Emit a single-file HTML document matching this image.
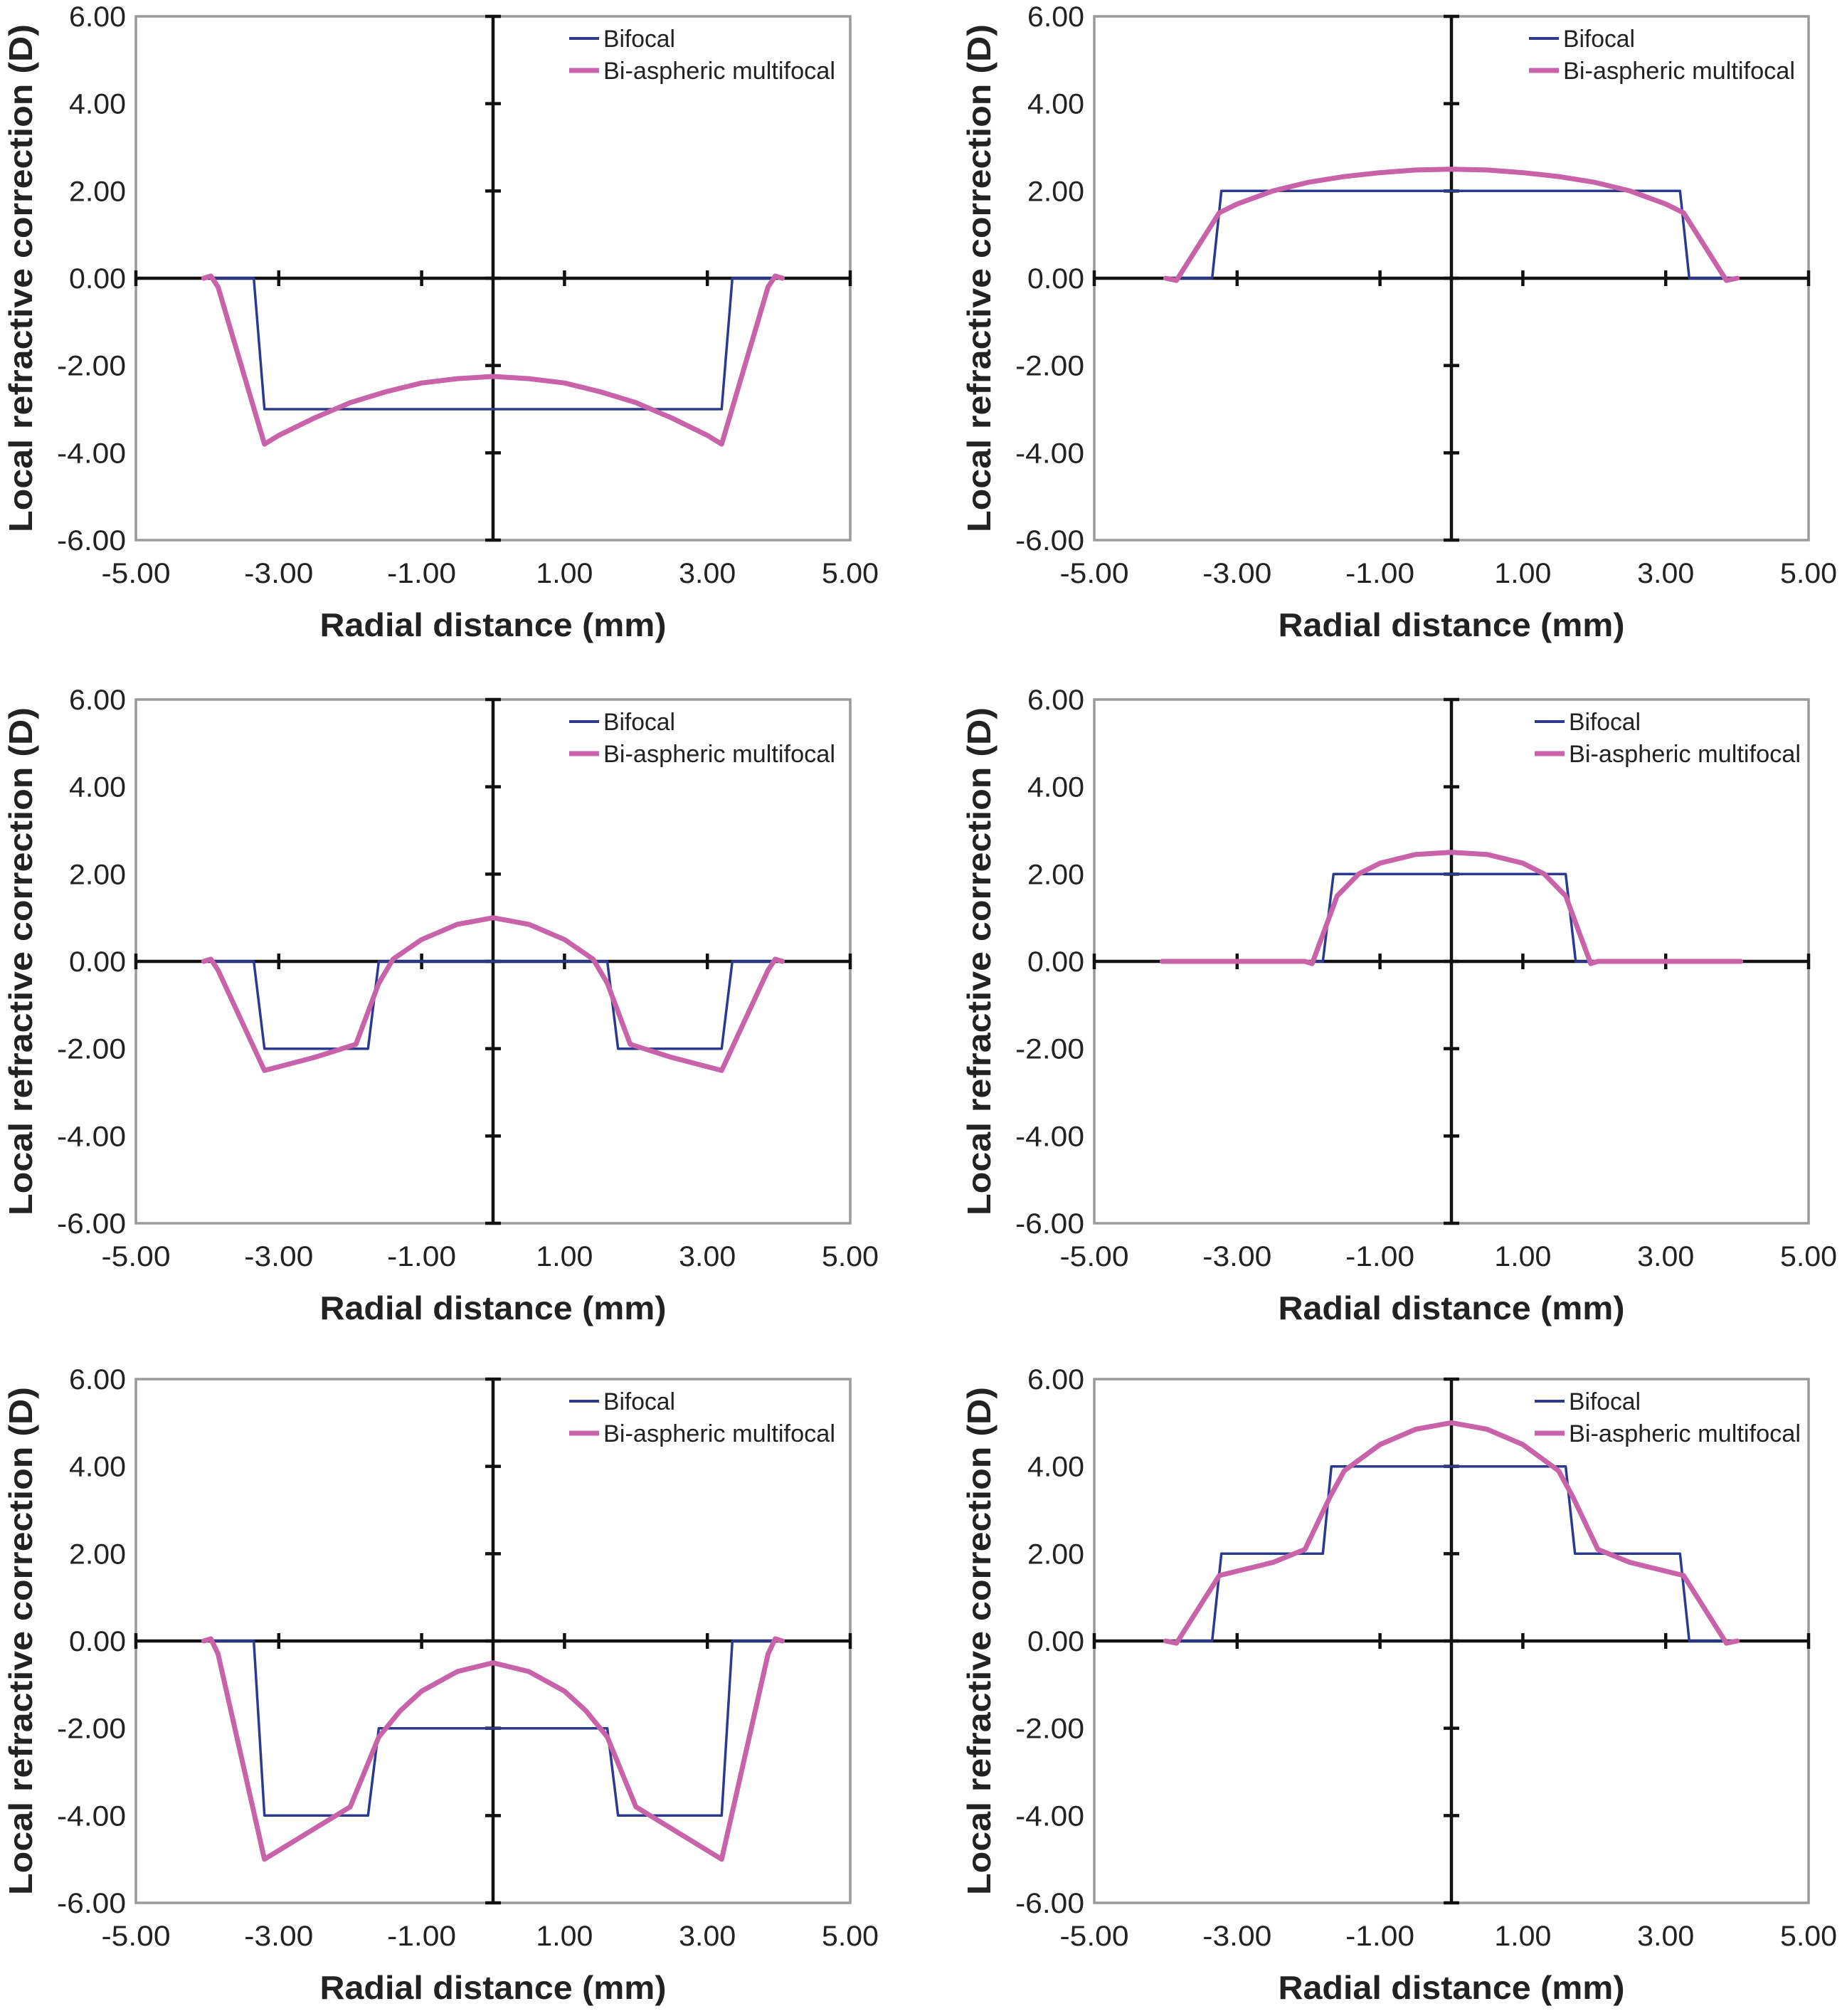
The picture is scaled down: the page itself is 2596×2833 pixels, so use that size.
<!DOCTYPE html>
<html><head><meta charset="utf-8"><style>
html,body{margin:0;padding:0;background:#fff;}
svg{display:block;font-family:"Liberation Sans Narrow","Liberation Sans",sans-serif;}
</style></head><body>
<svg id="chart" width="2596" height="2833" viewBox="0 0 2596 2833" xmlns="http://www.w3.org/2000/svg"></svg>
<script>
// ---- data ----
const xTicks = [-5, -3, -1, 1, 3, 5];
const xTickLabels = ["-5.00", "-3.00", "-1.00", "1.00", "3.00", "5.00"];
const yTicks = [-6, -4, -2, 0, 2, 4, 6];
const yTickLabels = ["-6.00", "-4.00", "-2.00", "0.00", "2.00", "4.00", "6.00"];
const seriesNames = ["Bifocal", "Bi-aspheric multifocal"];

// Panel A (top-left)
const aBifX = [-3.95, -3.35, -3.2, 3.2, 3.35, 3.95];
const aBifY = [0, 0, -3, -3, 0, 0];
const aMulX = [-4.05, -3.95, -3.85, -3.2, -3.0, -2.5, -2.0, -1.5, -1.0, -0.5, 0, 0.5, 1.0, 1.5, 2.0, 2.5, 3.0, 3.2, 3.85, 3.95, 4.05];
const aMulY = [0, 0.05, -0.2, -3.8, -3.6, -3.2, -2.85, -2.6, -2.4, -2.3, -2.25, -2.3, -2.4, -2.6, -2.85, -3.2, -3.6, -3.8, -0.2, 0.05, 0];
// Panel B (top-right)
const bBifX = [-3.95, -3.35, -3.22, 3.2, 3.33, 3.95];
const bBifY = [0, 0, 2, 2, 0, 0];
const bMulX = [-4.0, -3.85, -3.25, -3.0, -2.5, -2.0, -1.5, -1.0, -0.5, 0, 0.5, 1.0, 1.5, 2.0, 2.5, 3.0, 3.25, 3.85, 4.0];
const bMulY = [0, -0.05, 1.5, 1.7, 2.0, 2.2, 2.33, 2.42, 2.48, 2.5, 2.48, 2.42, 2.33, 2.2, 2.0, 1.7, 1.5, -0.05, 0];
// Panel C (middle-left)
const cBifX = [-3.95, -3.35, -3.2, -1.75, -1.6, 1.6, 1.75, 3.2, 3.35, 3.95];
const cBifY = [0, 0, -2, -2, 0, 0, -2, -2, 0, 0];
const cMulX = [-4.05, -3.95, -3.85, -3.2, -2.5, -1.92, -1.6, -1.4, -1.0, -0.5, 0, 0.5, 1.0, 1.4, 1.6, 1.92, 2.5, 3.2, 3.85, 3.95, 4.05];
const cMulY = [0, 0.05, -0.2, -2.5, -2.2, -1.9, -0.5, 0.05, 0.5, 0.85, 1.0, 0.85, 0.5, 0.05, -0.5, -1.9, -2.2, -2.5, -0.2, 0.05, 0];
// Panel D (middle-right)
const dBifX = [-4.0, -1.8, -1.65, 1.6, 1.74, 4.0];
const dBifY = [0, 0, 2, 2, 0, 0];
const dMulX = [-4.05, -2.05, -1.95, -1.6, -1.3, -1.0, -0.5, 0, 0.5, 1.0, 1.3, 1.6, 1.95, 2.05, 4.05];
const dMulY = [0, 0, -0.05, 1.5, 2.0, 2.25, 2.45, 2.5, 2.45, 2.25, 2.0, 1.5, -0.05, 0, 0];
// Panel E (bottom-left)
const eBifX = [-3.95, -3.35, -3.2, -1.75, -1.6, 1.6, 1.75, 3.2, 3.35, 3.95];
const eBifY = [0, 0, -4, -4, -2, -2, -4, -4, 0, 0];
const eMulX = [-4.05, -3.95, -3.85, -3.2, -2.5, -2.0, -1.6, -1.3, -1.0, -0.5, 0, 0.5, 1.0, 1.3, 1.6, 2.0, 2.5, 3.2, 3.85, 3.95, 4.05];
const eMulY = [0, 0.05, -0.3, -5.0, -4.3, -3.8, -2.2, -1.6, -1.15, -0.7, -0.5, -0.7, -1.15, -1.6, -2.2, -3.8, -4.3, -5.0, -0.3, 0.05, 0];
// Panel F (bottom-right)
const fBifX = [-3.95, -3.35, -3.22, -1.8, -1.68, 1.6, 1.73, 3.2, 3.33, 3.95];
const fBifY = [0, 0, 2, 2, 4, 4, 2, 2, 0, 0];
const fMulX = [-4.0, -3.85, -3.25, -2.5, -2.05, -1.7, -1.5, -1.0, -0.5, 0, 0.5, 1.0, 1.5, 1.7, 2.05, 2.5, 3.25, 3.85, 4.0];
const fMulY = [0, -0.05, 1.5, 1.8, 2.1, 3.3, 3.9, 4.5, 4.85, 5.0, 4.85, 4.5, 3.9, 3.3, 2.1, 1.8, 1.5, -0.05, 0];

const panels = [
  {id:"a", left:191, top:23, lx:800, bx:aBifX, by:aBifY, mx:aMulX, my:aMulY},
  {id:"b", left:1538, top:23, lx:2149, bx:bBifX, by:bBifY, mx:bMulX, my:bMulY},
  {id:"c", left:191, top:983, lx:800, bx:cBifX, by:cBifY, mx:cMulX, my:cMulY},
  {id:"d", left:1538, top:983, lx:2157, bx:dBifX, by:dBifY, mx:dMulX, my:dMulY},
  {id:"e", left:191, top:1938, lx:800, bx:eBifX, by:eBifY, mx:eMulX, my:eMulY},
  {id:"f", left:1538, top:1938, lx:2157, bx:fBifX, by:fBifY, mx:fMulX, my:fMulY}
];
const W = 1004, H = 736;
const NS = "http://www.w3.org/2000/svg";
const svg = document.getElementById("chart");
function mk(tag, attrs, parent){const e=document.createElementNS(NS,tag);for(const k in attrs)e.setAttribute(k,attrs[k]);parent.appendChild(e);return e;}

panels.forEach(p => {
  const sx = v => p.left + (v + 5) / 10 * W;
  const sy = v => p.top + (6 - v) / 12 * H;
  const g = mk("g", {}, svg);
  
  
  const box = mk("rect", {x:p.left, y:p.top, width:W, height:H, fill:"none", stroke:"#9a9a9a", "stroke-width":3.5}, g);
  
  
  // axes
  const xa = mk("line", {x1:p.left, x2:p.left+W, y1:sy(0), y2:sy(0), stroke:"#111", "stroke-width":4.5}, g);
  
  
  const ya = mk("line", {x1:sx(0), x2:sx(0), y1:p.top, y2:p.top+H, stroke:"#111", "stroke-width":4.5}, g);
  
  
  xTicks.forEach((t, i) => {
    const tk = mk("line", {x1:sx(t), x2:sx(t), y1:sy(0)-11, y2:sy(0)+11, stroke:"#111", "stroke-width":4.5}, g);
    
    
    const tl = mk("text", {x:sx(t), y:p.top+H+60, "font-size":40, "text-anchor":"middle", fill:"#222", textLength:xTickLabels[i].length>4?97:80, lengthAdjust:"spacingAndGlyphs"}, g);
    tl.textContent = xTickLabels[i];
    
    
  });
  yTicks.forEach((t, i) => {
    const tk = mk("line", {x1:sx(0)-11, x2:sx(0)+11, y1:sy(t), y2:sy(t), stroke:"#111", "stroke-width":4.5}, g);
    
    
    const tl = mk("text", {x:p.left-14, y:sy(t)+14, "font-size":40, "text-anchor":"end", fill:"#222", textLength:yTickLabels[i].length>4?97:80, lengthAdjust:"spacingAndGlyphs"}, g);
    tl.textContent = yTickLabels[i];
    
    
  });
  const xt = mk("text", {x:sx(0), y:p.top+H+135, "font-size":46, "font-weight":"bold", "text-anchor":"middle", fill:"#222", textLength:487, lengthAdjust:"spacingAndGlyphs", "font-family":"Liberation Sans, sans-serif"}, g);
  xt.textContent = "Radial distance (mm)";
  
  
  const cy = p.top + H/2, cx = p.left - 146;
  const yt = mk("text", {x:cx, y:cy, "font-size":46, "font-weight":"bold", "text-anchor":"middle", fill:"#222", transform:`rotate(-90 ${cx} ${cy})`, textLength:714, lengthAdjust:"spacingAndGlyphs", "font-family":"Liberation Sans, sans-serif"}, g);
  yt.textContent = "Local refractive correction (D)";
  
  
  // series
  const pts = (xs, ys) => xs.map((x, i) => sx(x).toFixed(1) + "," + sy(ys[i]).toFixed(1)).join(" ");
  const bl = mk("polyline", {points:pts(p.bx, p.by), fill:"none", stroke:"#2b3a8f", "stroke-width":3.5, "stroke-linejoin":"round"}, g);
  
  
  const ml = mk("polyline", {points:pts(p.mx, p.my), fill:"none", stroke:"#c862a9", "stroke-width":7, "stroke-linejoin":"round", "stroke-linecap":"round"}, g);
  
  
  // legend
  const lg = mk("g", {}, g);
  
  
  const l1 = mk("line", {x1:p.lx, x2:p.lx+42, y1:p.top+31, y2:p.top+31, stroke:"#2b3a8f", "stroke-width":4}, lg);
  
  
  const t1 = mk("text", {x:p.lx+48, y:p.top+43, "font-size":34, fill:"#222", textLength:101, lengthAdjust:"spacingAndGlyphs"}, lg);
  t1.textContent = seriesNames[0];
  
  
  const l2 = mk("line", {x1:p.lx, x2:p.lx+42, y1:p.top+76, y2:p.top+76, stroke:"#c862a9", "stroke-width":7}, lg);
  
  
  const t2 = mk("text", {x:p.lx+48, y:p.top+88, "font-size":34, fill:"#222", textLength:326, lengthAdjust:"spacingAndGlyphs"}, lg);
  t2.textContent = seriesNames[1];
  
  
});
</script>
</body></html>
